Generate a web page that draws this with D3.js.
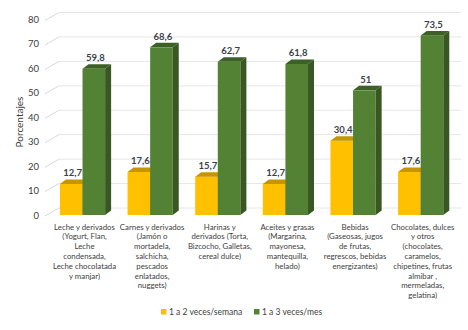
<!DOCTYPE html>
<html>
<head>
<meta charset="utf-8">
<script src="https://cdn.jsdelivr.net/npm/d3@7"></script>
<style>
  body { margin: 0; background: #fff; }
  svg { font-family: Lato, "Open Sans", sans-serif; }
</style>
</head>
<body>
<svg id="chart" width="468" height="330"></svg>
<script>
// data
var categories = [
  ["Leche y derivados", "(Yogurt, Flan,", "Leche", "condensada,", "Leche chocolatada", "y manjar)"],
  ["Carnes y derivados", "(Jamón o", "mortadela,", "salchicha,", "pescados", "enlatados,", "nuggets)"],
  ["Harinas y", "derivados (Torta,", "Bizcocho, Galletas,", "cereal dulce)"],
  ["Aceites y grasas", "(Margarina,", "mayonesa,", "mantequilla,", "helado)"],
  ["Bebidas", "(Gaseosas, jugos", "de frutas,", "regrescos, bebidas", "energizantes)"],
  ["Chocolates, dulces", "y otros", "(chocolates,", "caramelos,", "chipetines, frutas", "almibar ,", "mermeladas,", "gelatina)"]
];
var seriesNames = ["1 a 2 veces/semana", "1 a 3 veces/mes"];
var semanaValues = [12.7, 17.6, 15.7, 12.7, 30.4, 17.6];
var mesValues = [59.8, 68.6, 62.7, 61.8, 51, 73.5];
var yTicks = [0, 10, 20, 30, 40, 50, 60, 70, 80];

var svg = d3.select("#chart");
var plotLeft = 48.7, plotRight = 454.5;
var wallDx = 13, wallDy = -8;   // depth of side wall
var barDx = 6, barDy = -4.5;    // depth of each bar

var colors = [
  { front: "#FFC000", top: "#C79500", side: "#B88A00" },
  { front: "#548235", top: "#3C6126", side: "#385723" }
];

var yScale = d3.scaleLinear().domain([0, 80]).range([215, 19.5]);
var xScale = d3.scaleBand().domain(d3.range(categories.length)).range([plotLeft, plotRight]);
var bw = xScale.bandwidth();
var xInner = d3.scaleBand().domain([0, 1]).range([bw / 2 - 22.6, bw / 2 + 22.6]);

//Gridlines (side wall diagonals + back wall)
var grid = svg.append("g");
yTicks.forEach(function(t) {
  var y = yScale(t);
  grid.append("line")
    .attr("x1", 45).attr("y1", y + 1)
    .attr("x2", 45 + wallDx + 1).attr("y2", y + 1 + wallDy)
    .attr("stroke", "#d9d9d9").attr("stroke-width", 1);
  grid.append("line")
    .attr("x1", 46 + wallDx).attr("y1", y + 1 + wallDy)
    .attr("x2", 461).attr("y2", y + 1 + wallDy)
    .attr("stroke", "#e6e6e6").attr("stroke-width", 1);
});

//Y axis labels
svg.append("g").selectAll("text")
  .data(yTicks).enter().append("text")
  .attr("x", 39)
  .attr("y", d => yScale(d) + 3.5)
  .attr("text-anchor", "end")
  .attr("font-size", "9.5px")
  .attr("fill", "#404040")
  .text(d => d);

svg.append("text")
  .attr("transform", "translate(23,122) rotate(-90)")
  .attr("text-anchor", "middle")
  .attr("font-size", "10px")
  .attr("fill", "#404040")
  .text("Porcentajes");

//Bars
var bars = [];
categories.forEach(function(c, i) {
  bars.push({ cat: i, s: 0, v: semanaValues[i] });
  bars.push({ cat: i, s: 1, v: mesValues[i] });
});

var barG = svg.append("g");
var labelG = svg.append("g");
bars.forEach(function(d) {
  var x0 = xScale(d.cat) + xInner(d.s);
  var w = xInner.bandwidth();
  var yt = yScale(d.v), yb = yScale(0);
  var col = colors[d.s];
  barG.append("rect")
    .attr("x", x0).attr("y", yt)
    .attr("width", w).attr("height", yb - yt)
    .attr("fill", col.front);
  barG.append("polygon")
    .attr("points", [[x0, yt], [x0 + barDx, yt + barDy], [x0 + w + barDx, yt + barDy], [x0 + w, yt]].join(" "))
    .attr("fill", col.top);
  barG.append("polygon")
    .attr("points", [[x0 + w, yt], [x0 + w + barDx, yt + barDy], [x0 + w + barDx, yb + barDy], [x0 + w, yb]].join(" "))
    .attr("fill", col.side);
  labelG.append("text")
    .attr("x", x0 + w / 2 + 1.5)
    .attr("y", yt + barDy - 3)
    .attr("text-anchor", "middle")
    .attr("font-size", "9.5px")
    .attr("font-weight", "bold")
    .attr("fill", "#3a3f4a")
    .text(String(d.v).replace(".", ","));
});

//Category labels
var catG = svg.append("g");
categories.forEach(function(lines, i) {
  var cx = xScale(i) + bw / 2 + 2;
  var t = catG.append("text")
    .attr("x", cx)
    .attr("y", 229.5)
    .attr("text-anchor", "middle")
    .attr("font-size", "7.8px")
    .attr("fill", "#404040");
  lines.forEach(function(l, k) {
    t.append("tspan")
      .attr("x", cx)
      .attr("dy", k === 0 ? 0 : 9.8)
      .text(l);
  });
});

//Legend
var legendX = [161, 254];
var legend = svg.append("g");
seriesNames.forEach(function(n, i) {
  legend.append("rect")
    .attr("x", legendX[i]).attr("y", 309)
    .attr("width", 5.5).attr("height", 5.5)
    .attr("fill", colors[i].front);
  legend.append("text")
    .attr("x", legendX[i] + 8)
    .attr("y", 315)
    .attr("font-size", "8.5px")
    .attr("fill", "#404040")
    .text(n);
});
</script>
</body>
</html>
